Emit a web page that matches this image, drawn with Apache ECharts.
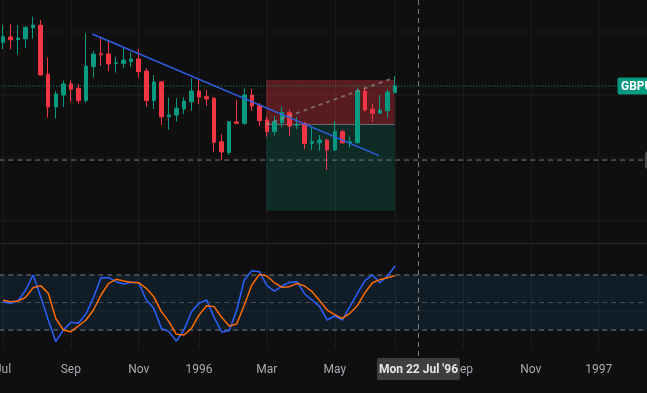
<!DOCTYPE html>
<html><head><meta charset="utf-8">
<script src="https://cdn.jsdelivr.net/npm/echarts@6/dist/echarts.min.js"></script>
<style>html,body{margin:0;padding:0;background:#0f0f0f;overflow:hidden}#c{width:647px;height:393px}</style>
</head><body><div id="c"></div>
<script>
// ---- data ----
const firstWeek = [1995, 6, 3];      // Mon 3 Jul 1995 (weekly bars)
const weekCount = 86;
const monthShort = ['Jan','Feb','Mar','Apr','May','Jun','Jul','Aug','Sep','Oct','Nov','Dec'];
const dayShort = ['Sun','Mon','Tue','Wed','Thu','Fri','Sat'];

const opens  = [1.5935,1.5968,1.5951,1.5957,1.6027,1.6043,1.5733,1.5524,1.5600,1.5670,1.5643,1.5564,1.5780,1.5862,1.5860,1.5801,1.5801,1.5811,1.5829,1.5752,1.5564,1.5683,1.5462,1.5473,1.5511,1.5557,1.5625,1.5589,1.5579,1.5303,1.5235,1.5429,1.5420,1.5600,1.5532,1.5441,1.5367,1.5424,1.5488,1.5406,1.5420,1.5293,1.5297,1.5312,1.5251,1.5367,1.5293,1.5297,1.5625,1.5510,1.5484,1.5500,1.5615];
const closes = [1.5970,1.5951,1.5962,1.6030,1.6044,1.5727,1.5524,1.5606,1.5670,1.5636,1.5564,1.5784,1.5860,1.5856,1.5797,1.5805,1.5822,1.5829,1.5748,1.5564,1.5683,1.5462,1.5473,1.5516,1.5562,1.5625,1.5587,1.5575,1.5300,1.5238,1.5430,1.5420,1.5600,1.5530,1.5437,1.5367,1.5430,1.5488,1.5403,1.5416,1.5292,1.5303,1.5314,1.5251,1.5367,1.5297,1.5303,1.5625,1.5505,1.5484,1.5505,1.5619,1.5657];
const lows   = [1.5892,1.5890,1.5858,1.5900,1.5957,1.5724,1.5456,1.5450,1.5522,1.5557,1.5543,1.5551,1.5710,1.5784,1.5752,1.5742,1.5773,1.5776,1.5710,1.5526,1.5511,1.5410,1.5378,1.5430,1.5479,1.5500,1.5541,1.5530,1.5238,1.5187,1.5219,1.5417,1.5410,1.5500,1.5403,1.5335,1.5343,1.5397,1.5340,1.5384,1.5257,1.5251,1.5246,1.5124,1.5244,1.5289,1.5268,1.5292,1.5494,1.5430,1.5482,1.5454,1.5613];
const highs  = [1.6044,1.6049,1.6044,1.6035,1.6097,1.6076,1.5837,1.5625,1.5691,1.5693,1.5670,1.5992,1.5881,1.5964,1.5949,1.5843,1.5903,1.5871,1.5892,1.5770,1.5727,1.5689,1.5585,1.5579,1.5585,1.5706,1.5695,1.5632,1.5587,1.5351,1.5435,1.5568,1.5643,1.5638,1.5549,1.5463,1.5467,1.5527,1.5507,1.5460,1.5430,1.5395,1.5346,1.5324,1.5435,1.5378,1.5335,1.5648,1.5648,1.5545,1.5600,1.5636,1.5721];

const stochK = [50.5,49.1,51.6,63.6,80,56.4,30.9,7.3,20,28.4,27.3,37.5,55.6,77.1,77.1,72.7,70.2,72,71.6,52.7,43.6,21.8,18.2,8,20,40,49.1,52.7,33.8,17.8,19.3,41.8,74.5,84.7,83.6,68.4,62.5,68,72,72.7,59.3,52.7,45.5,30.9,35.3,30.9,45.5,60,73.8,80,71.6,78.9,89.8];
const stochD = [52.4,50.9,51.6,55.6,66.2,68.4,60,32.7,20,18.2,24.4,30.9,41.8,58.2,70.9,75.3,73.5,72,71.6,65.5,56.4,40,29.1,15.3,14.5,21.8,36.4,46.5,45.5,33.8,24.4,26.5,47.3,69.1,80.7,78.9,71.6,66.5,67.3,70.9,68,61.8,52,41.8,36.7,32.7,38.2,46.5,60.7,71.6,74.9,77.1,79.3];

const bandUpper = 80, bandMid = 50, bandLower = 20, oscGridLevel = 40.7;
const priceGridLevels = [1.48, 1.52, 1.56, 1.60];
const trendLine = [[11.84, 1.5987], [49.87, 1.5215]];           // [bar index, price]
const positionBox = {x0: 34.88, x1: 51.95, stop: 1.5695, entry: 1.5413, target: 1.4865};
const positionPath = [[34.88, 1.5413], [51.72, 1.5708]];
const crosshair = {date: '1996-07-22', price: 1.5187};
const symbolName = 'GBPUSD';

// ---- build ----
const weeks = [];
for (let i = 0; i < weekCount; i++) {
  const t = Date.UTC(firstWeek[0], firstWeek[1], firstWeek[2]) + i * 7 * 86400000;
  weeks.push(new Date(t).toISOString().slice(0, 10));
}
const ohlc = opens.map((o, i) => [o, closes[i], lows[i], highs[i]]);
const lastClose = closes[closes.length - 1];
const isLabelWeek = (idx, val) => { const d = new Date(val + 'T00:00:00Z'); return d.getUTCDate() <= 7 && d.getUTCMonth() % 2 === 0; };
const fmtLabel = val => { const d = new Date(val + 'T00:00:00Z'); return d.getUTCMonth() === 0 ? String(d.getUTCFullYear()) : monthShort[d.getUTCMonth()]; };

const BW = 7.54;
const gridLeft = 3 - BW / 2;
const gridWidth = BW * weekCount;
const FONT = 'Roboto, "Liberation Sans", sans-serif';
const gridColor = '#1c1c1c';
const xMin = -0.5, xMax = weekCount - 0.5;

const chart = echarts.init(document.getElementById('c'), null, {renderer: 'canvas'});
const catAxis = (gi, showLabels, len) => ({
  type: 'category', gridIndex: gi, data: weeks, boundaryGap: true,
  axisLine: {show: false},
  axisTick: {show: true, inside: true, length: len, alignWithLabel: true, interval: isLabelWeek, lineStyle: {color: gridColor, width: 1}},
  axisLabel: {show: showLabels, interval: isLabelWeek, formatter: fmtLabel, color: '#a6a9b0', fontSize: 12, fontFamily: FONT, margin: 8},
  splitLine: {show: false}
});
const hLine = (xi, yi, v, style, z) => ({
  type: 'line', xAxisIndex: xi, yAxisIndex: yi, z: z, silent: true, symbol: 'none',
  data: [[xMin, v], [xMax, v]], lineStyle: style
});

chart.setOption({
  backgroundColor: '#0f0f0f',
  animation: false,
  grid: [
    {left: gridLeft, top: 0, width: gridWidth, height: 243, containLabel: false, outerBoundsMode: 'none'},
    {left: gridLeft, top: 245, width: gridWidth, height: 111, containLabel: false, outerBoundsMode: 'none'}
  ],
  xAxis: [
    catAxis(0, false, 243),
    catAxis(1, true, 113),
    {type: 'value', gridIndex: 0, min: xMin, max: xMax, show: false},
    {type: 'value', gridIndex: 1, min: xMin, max: xMax, show: false}
  ],
  yAxis: [
    {type: 'value', gridIndex: 0, min: 1.46603, max: 1.62032, show: false, splitLine: {show: false}},
    {type: 'value', gridIndex: 1, min: -8.36, max: 112.73, show: false, splitLine: {show: false}}
  ],
  series: [
    ...priceGridLevels.map(v => hLine(2, 0, v, {color: gridColor, width: 1}, 0)),
    hLine(2, 0, crosshair.price, {color: '#7d7d7d', width: 1, type: [5, 4]}, 6),
    { // position tool zones
      type: 'line', xAxisIndex: 2, yAxisIndex: 0, data: [], z: 1, silent: true,
      markArea: {silent: true, data: [
        [{coord: [positionBox.x0, positionBox.stop], itemStyle: {color: 'rgba(242,54,69,0.32)'}}, {coord: [positionBox.x1, positionBox.entry]}],
        [{coord: [positionBox.x0, positionBox.entry], itemStyle: {color: 'rgba(8,153,129,0.2)'}}, {coord: [positionBox.x1, positionBox.target]}]
      ]}
    },
    { // entry line
      type: 'line', xAxisIndex: 2, yAxisIndex: 0, z: 2, silent: true, symbol: 'none',
      data: [[positionBox.x0, positionBox.entry], [positionBox.x1, positionBox.entry]],
      lineStyle: {color: '#6f6f6f', width: 1}
    },
    hLine(2, 0, lastClose, {color: '#089981', width: 1, type: [1, 2]}, 2),
    {
      type: 'candlestick', xAxisIndex: 0, yAxisIndex: 0, data: ohlc, barWidth: 4, z: 3,
      itemStyle: {color: '#089981', color0: '#f23645', borderColor: '#089981', borderColor0: '#f23645', borderWidth: 1}
    },
    { // position path (dashed)
      type: 'line', xAxisIndex: 2, yAxisIndex: 0, z: 4, silent: true, symbol: 'none',
      data: positionPath, lineStyle: {color: 'rgba(150,150,150,0.6)', width: 2, type: [4, 4]}
    },
    { // trend line
      type: 'line', xAxisIndex: 2, yAxisIndex: 0, z: 5, silent: true, symbol: 'none',
      data: trendLine, lineStyle: {color: '#2f5fe0', width: 1.6}
    },
    { // oscillator band
      type: 'line', xAxisIndex: 3, yAxisIndex: 1, data: [], z: 0, silent: true,
      markArea: {silent: true, itemStyle: {color: 'rgba(33,150,243,0.1)'}, data: [[{coord: [xMin, bandLower]}, {coord: [xMax, bandUpper]}]]}
    },
    hLine(3, 1, oscGridLevel, {color: 'rgba(255,255,255,0.06)', width: 1}, 1),
    hLine(3, 1, bandUpper, {color: '#7a7d85', width: 1, type: [5, 4]}, 1),
    hLine(3, 1, bandMid, {color: 'rgba(122,125,133,0.5)', width: 1, type: [5, 4]}, 1),
    hLine(3, 1, bandLower, {color: '#7a7d85', width: 1, type: [5, 4]}, 1),
    {type: 'line', xAxisIndex: 1, yAxisIndex: 1, data: stochK, z: 3, symbol: 'none', silent: true, lineStyle: {color: '#2962ff', width: 1.5}},
    {type: 'line', xAxisIndex: 1, yAxisIndex: 1, data: stochD, z: 3, symbol: 'none', silent: true, lineStyle: {color: '#ff6d00', width: 1.5}}
  ]
});

const cx = Math.round(chart.convertToPixel({xAxisIndex: 0}, crosshair.date)) + 0.5;
const chY = chart.convertToPixel({yAxisIndex: 0}, crosshair.price);
const lastY = chart.convertToPixel({yAxisIndex: 0}, lastClose);
const cd = new Date(crosshair.date + 'T00:00:00Z');
const chLabel = dayShort[cd.getUTCDay()] + ' ' + cd.getUTCDate() + ' ' + monthShort[cd.getUTCMonth()] + " '" + String(cd.getUTCFullYear()).slice(2);

chart.setOption({graphic: [
  {type: 'line', silent: true, z: 10, shape: {x1: 0, y1: 243.5, x2: 647, y2: 243.5}, style: {stroke: '#2a2a2a', lineWidth: 1}},
  {type: 'line', silent: true, z: 10, shape: {x1: cx, y1: 0, x2: cx, y2: 358}, style: {stroke: '#7d7d7d', lineWidth: 1, lineDash: [5, 4]}},
  {type: 'rect', silent: true, z: 11, shape: {x: cx - 41.5, y: 358, width: 83, height: 22, r: 2}, style: {fill: '#3e3e3e'}},
  {type: 'text', silent: true, z: 12, x: cx, y: 369.5, style: {text: chLabel, fill: '#e6e6e6', font: 'bold 12px ' + FONT, align: 'center', verticalAlign: 'middle'}},
  {type: 'rect', silent: true, z: 11, shape: {x: 617.5, y: lastY - 8.5, width: 40, height: 17, r: 2}, style: {fill: '#089981'}},
  {type: 'text', silent: true, z: 12, x: 621, y: lastY + 0.5, style: {text: symbolName, fill: '#ffffff', font: 'bold 12px ' + FONT, verticalAlign: 'middle'}},
  {type: 'rect', silent: true, z: 11, shape: {x: 645, y: chY - 8.5, width: 10, height: 17, r: 2}, style: {fill: '#4a4a4a'}}
]});
</script></body></html>
